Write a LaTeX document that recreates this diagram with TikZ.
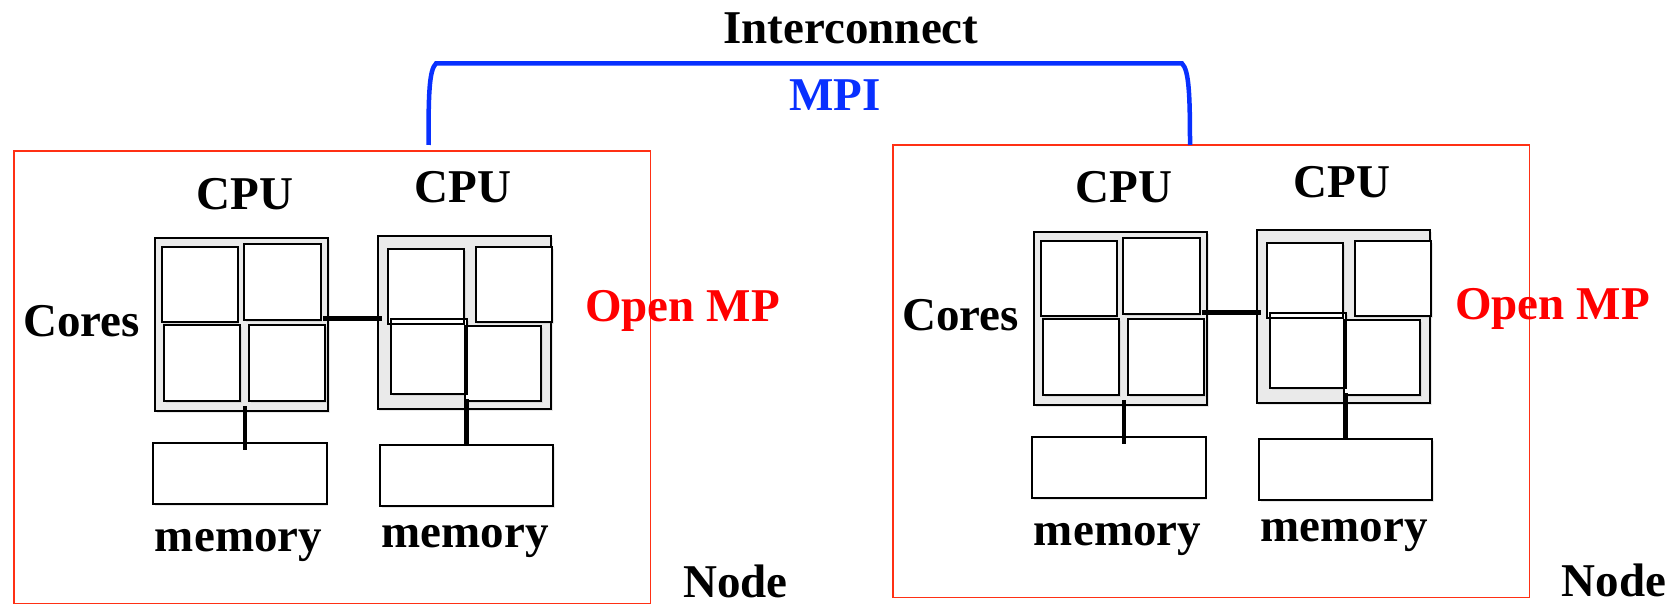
\documentclass[tikz,border=0pt]{standalone}
\usepackage{fontspec}
\setmainfont{Liberation Serif}
\usetikzlibrary{shadows}

\definecolor{frameRed}{RGB}{255,48,20}
\definecolor{mpiBlue}{RGB}{8,48,255}
\definecolor{ompRed}{RGB}{255,0,0}
\definecolor{socketGray}{RGB}{234,234,234}

% \rectnode{style}{name}{x1}{y1}{x2}{y2}: a named rectangle given by two corners
\newcommand\rectnode[6]{%
  \pgfmathsetmacro\rnCx{(#3+#5)/2}%
  \pgfmathsetmacro\rnCy{(#4+#6)/2}%
  \pgfmathsetmacro\rnW{#5-#3}%
  \pgfmathsetmacro\rnH{#6-#4}%
  \node[#1, minimum width=\rnW pt, minimum height=\rnH pt] (#2) at (\rnCx,\rnCy) {};}

% outline of an already placed rectangle node
\newcommand\outline[1]{\draw[coreline] (#1.south west) rectangle (#1.north east);}

\tikzset{
  txt/.style={font=\fontsize{47}{56}\selectfont\bfseries, inner sep=0pt, anchor=base},
  frame/.style={draw=frameRed, line width=1.6pt, inner sep=0pt, outer sep=0pt},
  softshadow/.style={drop shadow={shadow xshift=1.5pt, shadow yshift=-2pt, opacity=0.15, fill=black!60}},
  socket/.style={draw, line width=2pt, fill=socketGray, inner sep=0pt, outer sep=0pt, softshadow},
  core/.style={fill=white, inner sep=0pt, outer sep=0pt, softshadow},
  coreline/.style={line width=2pt},
  membox/.style={draw, line width=2pt, fill=white, inner sep=0pt, outer sep=0pt, softshadow},
  bus/.style={line width=4.5pt},
  mpibracket/.style={draw=mpiBlue, line width=4.5pt},
  % one shared-memory machine: two sockets with four cores each, their memories
  smp/.pic={
    \rectnode{frame}{box}{13.9}{151}{650.5}{603.3}
    \rectnode{socket}{cpuA}{155}{238}{328}{411}
    \rectnode{core}{a1}{161.7}{246.7}{237.7}{322}
    \rectnode{core}{a2}{244.3}{244.3}{320.7}{320}
    \rectnode{core}{a3}{164.3}{325}{240.3}{400.7}
    \rectnode{core}{a4}{249}{325}{325}{400.7}
    \rectnode{socket}{cpuB}{377.7}{236}{551}{409}
    \rectnode{core}{b1}{388}{249}{464.3}{324.3}
    \rectnode{core}{b2}{475.7}{246.7}{552.3}{322.3}
    \rectnode{core}{b3}{391}{319}{467}{394.3}
    \rectnode{core}{b4}{465}{325.7}{541}{401}
    \outline{a1}\outline{a2}\outline{a3}\outline{a4}
    \outline{b1}\outline{b2}\outline{b3}\outline{b4}
    \rectnode{membox}{memA}{153.3}{442.7}{326.7}{504}
    \rectnode{membox}{memB}{380}{445.3}{553.3}{506}
    \coordinate (busA) at (323,318.3);
    \coordinate (busB) at (381.7,318.3);
    \coordinate (tapA) at (245,406);
    \coordinate (dropA) at (245,450);
    \coordinate (tapB) at (466.7,399.3);
    \coordinate (dropB) at (466.7,444);
    \draw[bus] (busA) -- (busB);
    \draw[bus] (tapA) -- (dropA);
    \draw[bus] (tapB) -- (dropB);
    \node[txt] (cpuAlbl) at (245,209) {CPU};
    \node[txt] (cpuBlbl) at (463,203) {CPU};
    \node[txt] (coreslbl) at (81.7,336) {Cores};
    \node[txt] (memAlbl) at (238.5,551.5) {memory};
    \node[txt] (memBlbl) at (465,547) {memory};
  }
}

\begin{document}
\begin{tikzpicture}[x=1pt, y=-1pt]
  \useasboundingbox (0,0) rectangle (1674,607);
  \fill[white] (0,0) rectangle (1674,607);

  \pic (L) at (0,0) {smp};
  \pic (R) at (879,-6) {smp};

  \node[txt] (nodeL) at (735.5,597) {Node};
  \node[txt] (nodeR) at (1614,596) {Node};

  \node[txt, text=ompRed] (ompL) at (682.5,321.7) {Open MP};
  \node[txt, text=ompRed] (ompR) at (1552.5,319.3) {Open MP};

  \node[txt] (ic) at (851,44) {Interconnect};
  \node[txt, text=mpiBlue] (mpi) at (835,111) {MPI};

  % message-passing link between the two machines
  \coordinate (mpiL) at (428.5,145);
  \coordinate (mpiR) at (1190,145);
  \draw[mpibracket] (mpiL) .. controls (428.5,95) and (429,70) .. (436,63.5)
    -- (1182,63.5) .. controls (1189,70) and (1190,95) .. (mpiR);
\end{tikzpicture}
\end{document}
